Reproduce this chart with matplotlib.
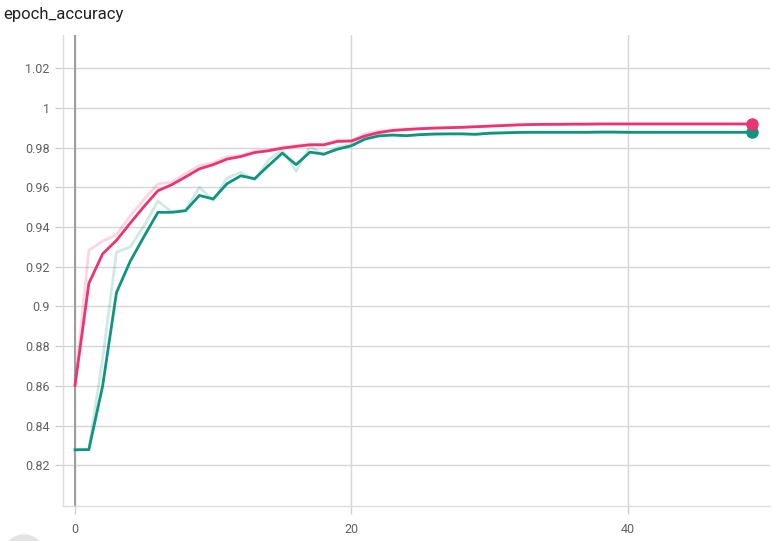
import matplotlib
matplotlib.use('Agg')
import matplotlib.pyplot as plt
from matplotlib.patches import Ellipse

plt.rcParams['font.family'] = ['Roboto', 'DejaVu Sans']

TITLE = 'epoch_accuracy'
PINK = '#ec3472'
TEAL = '#10947f'

epochs = list(range(50))

# pink run: raw (faint) and smoothed (solid)
pink_raw = [0.8603, 0.9283, 0.9329, 0.9361, 0.9457, 0.9540, 0.9617, 0.9626, 0.9669, 0.9710,
            0.9723, 0.9754, 0.9760, 0.9783, 0.9787, 0.9803, 0.9810, 0.9817, 0.9814, 0.9839,
            0.9834, 0.9870, 0.9883, 0.9890, 0.9894, 0.9897, 0.9899, 0.9901, 0.9903, 0.9906,
            0.9909, 0.9913, 0.9916, 0.9917, 0.9917, 0.9918, 0.9918, 0.9919, 0.9919, 0.9919,
            0.9919, 0.9919, 0.9919, 0.9919, 0.9919, 0.9919, 0.9919, 0.9919, 0.9919, 0.9919]
pink_smooth = [0.8603, 0.9116, 0.9265, 0.9333, 0.9420, 0.9504, 0.9583, 0.9613, 0.9652, 0.9693,
               0.9714, 0.9742, 0.9755, 0.9775, 0.9784, 0.9797, 0.9806, 0.9814, 0.9814, 0.9831,
               0.9833, 0.9859, 0.9876, 0.9886, 0.9891, 0.9895, 0.9898, 0.9900, 0.9902, 0.9905,
               0.9908, 0.9911, 0.9914, 0.9916, 0.9917, 0.9917, 0.9918, 0.9918, 0.9919, 0.9919,
               0.9919, 0.9919, 0.9919, 0.9919, 0.9919, 0.9919, 0.9919, 0.9919, 0.9919, 0.9919]

# teal run
teal_raw = [0.8278, 0.8280, 0.8737, 0.9273, 0.9300, 0.9407, 0.9530, 0.9476, 0.9486, 0.9600,
            0.9534, 0.9647, 0.9675, 0.9637, 0.9737, 0.9790, 0.9680, 0.9806, 0.9763, 0.9803,
            0.9816, 0.9857, 0.9866, 0.9864, 0.9858, 0.9868, 0.9869, 0.9869, 0.9869, 0.9866,
            0.9875, 0.9875, 0.9877, 0.9877, 0.9877, 0.9877, 0.9877, 0.9877, 0.9878, 0.9878,
            0.9877, 0.9877, 0.9877, 0.9877, 0.9877, 0.9877, 0.9877, 0.9877, 0.9877, 0.9877]
teal_smooth = [0.8278, 0.8279, 0.8600, 0.9070, 0.9228, 0.9353, 0.9474, 0.9474, 0.9482, 0.9559,
               0.9541, 0.9618, 0.9658, 0.9643, 0.9709, 0.9772, 0.9714, 0.9777, 0.9767, 0.9792,
               0.9809, 0.9843, 0.9859, 0.9863, 0.9860, 0.9865, 0.9868, 0.9869, 0.9869, 0.9867,
               0.9872, 0.9874, 0.9876, 0.9877, 0.9877, 0.9877, 0.9877, 0.9877, 0.9878, 0.9878,
               0.9877, 0.9877, 0.9877, 0.9877, 0.9877, 0.9877, 0.9877, 0.9877, 0.9877, 0.9877]

y_ticks = [0.82, 0.84, 0.86, 0.88, 0.9, 0.92, 0.94, 0.96, 0.98, 1.0, 1.02]
y_labels = ['0.82', '0.84', '0.86', '0.88', '0.9', '0.92', '0.94', '0.96', '0.98', '1', '1.02']
x_ticks = [0, 20, 40]

fig = plt.figure(figsize=(7.72, 5.41), dpi=100)
ax = fig.add_axes([63 / 772, 1 - 506 / 541, (770 - 63) / 772, (506 - 35) / 541])

ax.plot(epochs, teal_raw, color=TEAL, lw=2, alpha=0.2, zorder=3)
ax.plot(epochs, pink_raw, color=PINK, lw=2, alpha=0.2, zorder=3)
ax.plot(epochs, teal_smooth, color=TEAL, lw=2, zorder=4)
ax.plot(epochs, pink_smooth, color=PINK, lw=2, zorder=4)
ax.plot(epochs[-1], teal_smooth[-1], 'o', color=TEAL, ms=8, zorder=5)
ax.plot(epochs[-1], pink_smooth[-1], 'o', color=PINK, ms=8, zorder=5)

ax.set_xlim(-0.87, 50.3)
ax.set_ylim(0.7995, 1.0367)
ax.set_yticks(y_ticks)
ax.set_yticklabels(y_labels)
ax.set_xticks(x_ticks)
ax.grid(True, color='#d6d6d6', lw=1)
ax.axvline(0, color='#9e9e9e', lw=1.5, zorder=2)

for side in ('top', 'right'):
    ax.spines[side].set_visible(False)
for side in ('left', 'bottom'):
    ax.spines[side].set_color('#dcdcdc')
    ax.spines[side].set_linewidth(1)
ax.tick_params(colors='#d0d0d0', labelcolor='#616161', labelsize=9, length=6, width=1)
ax.tick_params(axis='x', pad=6)

fig.text(3 / 772, 1 - 14 / 541, TITLE, fontsize=12, color='#212121', va='center', ha='left')

# partially visible round button at the bottom left corner (radius ~20 px)
fig.patches.append(Ellipse((24 / 772, 1 - 555 / 541), 40 / 772, 40 / 541,
                           transform=fig.transFigure, color='#e3e3e3', zorder=0))

fig.savefig('out.png', dpi=100)
